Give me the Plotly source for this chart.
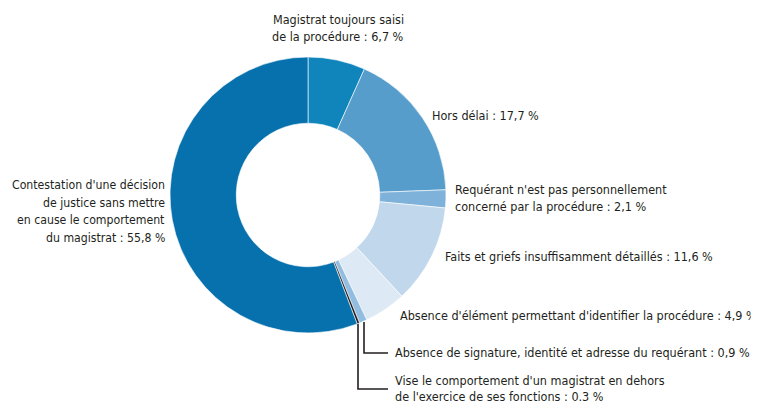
import plotly.graph_objects as go

labels = [
    "Magistrat toujours saisi de la procédure",
    "Hors délai",
    "Requérant n'est pas personnellement concerné par la procédure",
    "Faits et griefs insuffisamment détaillés",
    "Absence d'élément permettant d'identifier la procédure",
    "Absence de signature, identité et adresse du requérant",
    "Vise le comportement d'un magistrat en dehors de l'exercice de ses fonctions",
    "Contestation d'une décision de justice sans mettre en cause le comportement du magistrat",
]
values = [6.7, 17.7, 2.1, 11.6, 4.9, 0.9, 0.3, 55.8]
colors = ["#1085bb", "#569dcb", "#7fb2da", "#c1d8ec", "#dde9f5", "#93bde0", "#231f20", "#0771ad"]

label_lines = [
    ["Magistrat toujours saisi", "de la procédure : 6,7 %"],
    ["Hors délai : 17,7 %"],
    ["Requérant n'est pas personnellement", "concerné par la procédure : 2,1 %"],
    ["Faits et griefs insuffisamment détaillés : 11,6 %"],
    ["Absence d'élément permettant d'identifier la procédure : 4,9 %"],
    ["Absence de signature, identité et adresse du requérant : 0,9 %"],
    ["Vise le comportement d'un magistrat en dehors", "de l'exercice de ses fonctions : 0.3 %"],
    ["Contestation d'une décision", "de justice sans mettre", "en cause le comportement", "du magistrat : 55,8 %"],
]

# page is offset by the 8px body margin
OFF = 8
PW, PH = 759, 403
W, H = PW - OFF, PH - OFF
FONT = "DejaVu Sans Condensed, Liberation Sans Narrow, sans-serif"
TXT = "#231f20"
FS = 12.5

def fx(px):
    return (px - OFF) / W

def fy(py):
    return 1 - (py - OFF) / H

fig = go.Figure(go.Pie(
    labels=labels, values=values, sort=False, direction="clockwise", rotation=0,
    hole=0.52, textinfo="none", hoverinfo="label+percent",
    marker=dict(colors=colors, line=dict(color="white", width=0.6)),
    domain=dict(x=[fx(170), fx(446)], y=[fy(333), fy(57)]),
    showlegend=False,
))

# first-line anchor in page pixels: (x, y of first line centre, xanchor, line spacing, size)
pos = [
    (338, 19, "center", 17, FS),
    (430, 115, "left", 17, FS),
    (453, 189, "left", 17, FS),
    (443, 256, "left", 17, FS),
    (398, 315, "left", 17, FS),
    (393, 352, "left", 17, FS),
    (393, 380, "left", 16, FS),
    (167, 185, "right", 17.7, 12.2),
]
for lines, (px, py, xa, ls, fs) in zip(label_lines, pos):
    for i, t in enumerate(lines):
        fig.add_annotation(
            x=fx(px), y=fy(py + i * ls), xref="paper", yref="paper", text=t,
            showarrow=False, xanchor=xa, yanchor="middle",
            font=dict(family=FONT, size=fs, color=TXT),
        )

# leader lines
def line(pts):
    path = "M " + " L ".join(f"{fx(x)},{fy(y)}" for x, y in pts)
    fig.add_shape(type="path", path=path, xref="paper", yref="paper",
                  line=dict(color="#231f20", width=1.6))

line([(364, 322), (364, 353), (388, 353)])
line([(358, 324), (358, 389), (388, 389)])

fig.update_layout(
    width=W, height=H, margin=dict(l=0, r=0, t=0, b=0),
    paper_bgcolor="white", plot_bgcolor="white",
)
fig.write_html("out.html")
